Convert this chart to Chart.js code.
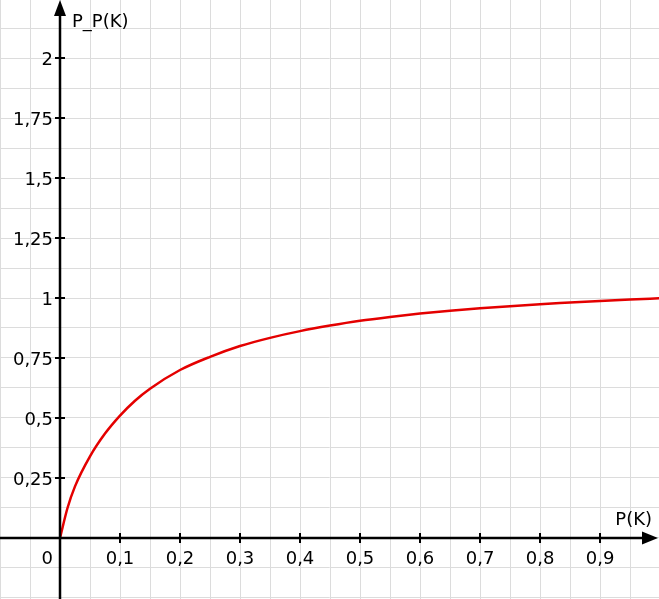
<!DOCTYPE html>
<html>
<head>
<meta charset="utf-8">
<script src="https://cdn.jsdelivr.net/npm/chart.js@4/dist/chart.umd.min.js"></script>
<style>
  html, body { margin: 0; padding: 0; background: #fff; overflow: hidden; }
  canvas { display: block; }
</style>
</head>
<body>
<canvas id="graph" width="659" height="599"></canvas>
<script>
const pK  = [0, 0.0125, 0.025, 0.05, 0.075, 0.1, 0.125, 0.15, 0.2, 0.25, 0.3, 0.35, 0.4, 0.45,
             0.5, 0.55, 0.6, 0.65, 0.7, 0.75, 0.8, 0.85, 0.9, 0.95, 1.0];
const pPK = [0, 0.125, 0.215, 0.34, 0.435, 0.51, 0.572, 0.622, 0.700, 0.755, 0.800, 0.834, 0.862, 0.885,
             0.905, 0.921, 0.935, 0.947, 0.957, 0.966, 0.974, 0.981, 0.988, 0.994, 0.999];

// axis ticks and their labels
const xTicks = [0.1, 0.2, 0.3, 0.4, 0.5, 0.6, 0.7, 0.8, 0.9];
const xTickLabels = ['0,1', '0,2', '0,3', '0,4', '0,5', '0,6', '0,7', '0,8', '0,9'];
const yTicks = [0.25, 0.5, 0.75, 1, 1.25, 1.5, 1.75, 2];
const yTickLabels = ['0,25', '0,5', '0,75', '1', '1,25', '1,5', '1,75', '2'];

const xTitle = 'P(K)';
const yTitle = 'P_P(K)';

const FONT = '18px "DejaVu Sans", Verdana, sans-serif';

// draw the cross axes with arrows, tick marks and labels
const crossAxes = {
  id: 'crossAxes',
  afterDatasetsDraw(chart) {
    const ctx = chart.ctx;
    const xs = chart.scales.x, ys = chart.scales.y;
    const ox = xs.getPixelForValue(0), oy = ys.getPixelForValue(0);
    const area = chart.chartArea;

    ctx.save();
    ctx.strokeStyle = '#000';
    ctx.fillStyle = '#000';
    ctx.lineWidth = 2.5;

    // axis lines
    ctx.beginPath();
    ctx.moveTo(ox, area.bottom);
    ctx.lineTo(ox, area.top + 8);
    ctx.moveTo(area.left, oy);
    ctx.lineTo(area.right - 8, oy);
    ctx.stroke();

    // arrow heads
    ctx.beginPath();
    ctx.moveTo(ox, area.top);
    ctx.lineTo(ox - 6, area.top + 16);
    ctx.lineTo(ox + 6, area.top + 16);
    ctx.closePath();
    ctx.fill();
    ctx.beginPath();
    ctx.moveTo(area.right - 1, oy);
    ctx.lineTo(area.right - 17, oy - 6.5);
    ctx.lineTo(area.right - 17, oy + 6.5);
    ctx.closePath();
    ctx.fill();

    // tick marks
    ctx.lineWidth = 2;
    ctx.beginPath();
    xTicks.forEach(v => {
      const px = xs.getPixelForValue(v);
      ctx.moveTo(px, oy - 5);
      ctx.lineTo(px, oy + 5);
    });
    yTicks.forEach(v => {
      const py = ys.getPixelForValue(v);
      ctx.moveTo(ox - 5, py);
      ctx.lineTo(ox + 5, py);
    });
    ctx.stroke();

    // tick labels
    ctx.font = FONT;
    ctx.textBaseline = 'middle';
    ctx.textAlign = 'center';
    xTicks.forEach((v, i) => {
      ctx.fillText(xTickLabels[i], xs.getPixelForValue(v), oy + 21);
    });
    ctx.textAlign = 'right';
    yTicks.forEach((v, i) => {
      ctx.fillText(yTickLabels[i], ox - 7, ys.getPixelForValue(v) + 2);
    });
    ctx.fillText('0', ox - 7, oy + 21);

    // axis titles
    ctx.textAlign = 'left';
    ctx.fillText(yTitle, ox + 12, area.top + 22);
    ctx.textAlign = 'right';
    ctx.fillText(xTitle, area.right - 7, oy - 18);
    ctx.restore();
  }
};

function gridTicks(min, max, step) {
  const out = [];
  for (let v = Math.ceil(min / step) * step; v <= max + 1e-9; v += step) {
    out.push({ value: +v.toFixed(4) });
  }
  return out;
}

new Chart(document.getElementById('graph'), {
  type: 'scatter',
  data: {
    datasets: [{
      data: pK.map((x, i) => ({ x: x, y: pPK[i] })),
      showLine: true,
      borderColor: 'rgb(228, 0, 0)',
      borderWidth: 2.5,
      pointRadius: 0,
      cubicInterpolationMode: 'monotone',
      clip: false
    }]
  },
  options: {
    responsive: false,
    animation: false,
    layout: { padding: 0 },
    plugins: { legend: { display: false }, tooltip: { enabled: false } },
    scales: {
      x: {
        type: 'linear',
        min: -0.1,
        max: 0.9983,
        afterBuildTicks: s => { s.ticks = gridTicks(s.min, s.max, 0.05); },
        ticks: { display: false },
        border: { display: false },
        grid: { color: '#dcdcdc', lineWidth: 1, drawTicks: false }
      },
      y: {
        type: 'linear',
        min: -0.2542,
        max: 2.2417,
        afterBuildTicks: s => { s.ticks = gridTicks(s.min, s.max, 0.125); },
        ticks: { display: false },
        border: { display: false },
        grid: { color: '#dcdcdc', lineWidth: 1, drawTicks: false }
      }
    }
  },
  plugins: [crossAxes]
});
</script>
</body>
</html>
